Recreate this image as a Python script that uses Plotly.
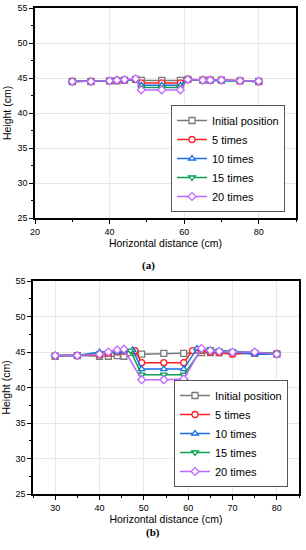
import plotly.graph_objects as go

# ---------------- data: panel (a) ----------------
xa = [30, 35, 40, 42, 44, 47, 48.5, 54, 59, 61, 65, 67, 70, 75, 80]
a_initial = [44.5, 44.5, 44.6, 44.6, 44.7, 44.8, 44.65, 44.65, 44.65, 44.8, 44.7, 44.7, 44.7, 44.6, 44.5]
a_5 = [44.5, 44.5, 44.6, 44.7, 44.7, 44.8, 44.3, 44.3, 44.3, 44.8, 44.7, 44.7, 44.7, 44.6, 44.5]
a_10 = [44.5, 44.5, 44.6, 44.7, 44.7, 44.8, 43.95, 43.95, 43.95, 44.8, 44.7, 44.7, 44.6, 44.6, 44.5]
a_15 = [44.5, 44.5, 44.6, 44.7, 44.75, 44.8, 43.65, 43.65, 43.65, 44.8, 44.7, 44.7, 44.6, 44.6, 44.5]
a_20 = [44.5, 44.5, 44.6, 44.7, 44.75, 44.9, 43.3, 43.3, 43.3, 44.8, 44.7, 44.7, 44.7, 44.6, 44.55]

# ---------------- data: panel (b) ----------------
xb_initial = [30, 35, 40, 42, 44, 45.5, 49.5, 54.5, 59, 63, 65, 67, 70, 75, 80]
b_initial = [44.4, 44.5, 44.4, 44.4, 44.5, 44.4, 44.7, 44.8, 44.8, 44.9, 44.9, 44.9, 44.9, 44.8, 44.7]
xb_5 = [30, 35, 40, 42, 44, 45.5, 48, 49.5, 54.5, 59, 61, 63, 65, 67, 70, 75, 80]
b_5 = [44.5, 44.5, 44.6, 44.8, 45.0, 45.1, 45.2, 43.5, 43.5, 43.5, 45.2, 45.2, 45.0, 44.9, 44.7, 44.9, 44.8]
xb_10 = [30, 35, 40, 42, 44, 45.5, 47.5, 49.5, 54.5, 59, 62, 65, 67, 70, 75, 80]
b_10 = [44.5, 44.5, 45.0, 45.0, 45.0, 45.1, 45.3, 42.6, 42.6, 42.6, 45.5, 45.2, 45.1, 45.0, 44.7, 44.7]
xb_15 = [30, 35, 40, 42, 44, 45.5, 47, 49.5, 54.5, 59, 63, 65, 67, 70, 75, 80]
b_15 = [44.5, 44.5, 44.8, 44.9, 45.1, 45.2, 45.2, 41.8, 41.8, 41.8, 45.3, 45.4, 45.2, 45.1, 44.9, 44.8]
xb_20 = [30, 35, 40, 42, 44, 45.5, 49.5, 54.5, 59, 63, 65, 67, 70, 75, 80]
b_20 = [44.5, 44.5, 44.7, 45.0, 45.3, 45.4, 41.1, 41.1, 41.2, 45.5, 45.2, 45.1, 45.0, 45.0, 44.7]

names = ["Initial position", "5 times", "10 times", "15 times", "20 times"]
colors = ["#7a7a7a", "#ff2020", "#1a6fe8", "#0aa050", "#c066ff"]
symbols = ["square", "circle", "triangle-up", "triangle-down", "diamond"]

W, H = 306, 550
def px(v): return v / W
def py(v): return 1 - v / H

fig = go.Figure()

series_a = [(xa, a_initial), (xa, a_5), (xa, a_10), (xa, a_15), (xa, a_20)]
series_b = [(xb_initial, b_initial), (xb_5, b_5), (xb_10, b_10), (xb_15, b_15), (xb_20, b_20)]

for i, (x, y) in enumerate(series_a):
    fig.add_trace(go.Scatter(
        x=x, y=y, name=names[i], mode="lines+markers", xaxis="x", yaxis="y",
        line=dict(color=colors[i], width=1.5),
        marker=dict(symbol=symbols[i], size=6, color="white", line=dict(width=1.3, color=colors[i])),
        legend="legend"))
for i, (x, y) in enumerate(series_b):
    fig.add_trace(go.Scatter(
        x=x, y=y, name=names[i], mode="lines+markers", xaxis="x2", yaxis="y2",
        line=dict(color=colors[i], width=1.5),
        marker=dict(symbol=symbols[i], size=6, color="white", line=dict(width=1.3, color=colors[i])),
        legend="legend2"))

tickfont = dict(family="Liberation Sans, Arial", size=9, color="black")
titlefont = dict(family="Liberation Sans, Arial", size=10.5, color="black")
grid = "#e8e8e8"

def xaxis(dom, anchor, rng, dtick, minor):
    return dict(domain=dom, anchor=anchor, range=rng, dtick=dtick, tick0=0,
                showline=True, linecolor="black", linewidth=1.5, mirror=True,
                ticks="outside", ticklen=4, tickwidth=1, tickcolor="black",
                tickfont=tickfont, showgrid=True, gridcolor=grid, gridwidth=1,
                minor=dict(dtick=minor, ticks="outside", ticklen=2, tickcolor="black", showgrid=False),
                zeroline=False, automargin=False,
                title=dict(text="Horizontal distance (cm)", font=titlefont, standoff=4))

def yaxis(dom, anchor):
    return dict(domain=dom, anchor=anchor, range=[25, 55], dtick=5, tick0=0,
                showline=True, linecolor="black", linewidth=1.5, mirror=True,
                ticks="outside", ticklen=4, tickwidth=1, tickcolor="black",
                tickfont=tickfont, showgrid=True, gridcolor=grid, gridwidth=1,
                minor=dict(dtick=2.5, ticks="outside", ticklen=2, tickcolor="black", showgrid=False),
                zeroline=False, automargin=False,
                title=dict(text="Height (cm)", font=titlefont, standoff=4))

def topaxis(over, rng, dtick, minor, dom):
    return dict(overlaying=over, side="top", range=rng, dtick=dtick, tick0=0, domain=dom,
                showticklabels=False, ticks="inside", ticklen=4, tickcolor="black",
                minor=dict(dtick=minor, ticks="inside", ticklen=2, tickcolor="black"),
                showgrid=False, zeroline=False, showline=False)

def rightaxis(over, dom):
    return dict(overlaying=over, side="right", range=[25, 55], dtick=5, tick0=0, domain=dom,
                showticklabels=False, ticks="inside", ticklen=4, tickcolor="black",
                minor=dict(dtick=2.5, ticks="inside", ticklen=2, tickcolor="black"),
                showgrid=False, zeroline=False, showline=False)

xa_dom = [px(35), px(296)]
ya_dom = [py(218), py(8)]
xb_dom = [px(33), px(299)]
yb_dom = [py(494), py(281)]

legend_common = dict(font=dict(family="Liberation Sans, Arial", size=11, color="black"),
                     bordercolor="#555555", borderwidth=1, bgcolor="white",
                     xanchor="right", yanchor="bottom", itemwidth=30,
                     tracegroupgap=0)

fig.update_layout(
    width=W, height=H, margin=dict(l=0, r=0, t=0, b=0),
    paper_bgcolor="white", plot_bgcolor="white",
    xaxis=xaxis(xa_dom, "y", [20, 90], 20, 10),
    yaxis=yaxis(ya_dom, "x"),
    xaxis2=xaxis(xb_dom, "y2", [25, 85], 10, 5),
    yaxis2=yaxis(yb_dom, "x2"),
    xaxis3=topaxis("x", [20, 90], 20, 10, xa_dom),
    yaxis3=rightaxis("y", ya_dom),
    xaxis4=topaxis("x2", [25, 85], 10, 5, xb_dom),
    yaxis4=rightaxis("y2", yb_dom),
    legend=dict(x=px(285), y=py(212), **legend_common),
    legend2=dict(x=px(288), y=py(487), **legend_common),
    showlegend=True,
    annotations=[
        dict(text="<b>(a)</b>", x=px(148), y=py(265), xref="paper", yref="paper",
             showarrow=False, font=dict(family="Liberation Serif, Times New Roman", size=11, color="black")),
        dict(text="<b>(b)</b>", x=px(153), y=py(541), xref="paper", yref="paper",
             showarrow=False, font=dict(family="Liberation Serif, Times New Roman", size=11, color="black")),
    ],
)

fig.write_html("out.html", config={"displayModeBar": False},
               post_script="document.body.style.margin='0';document.body.style.overflow='hidden';")
